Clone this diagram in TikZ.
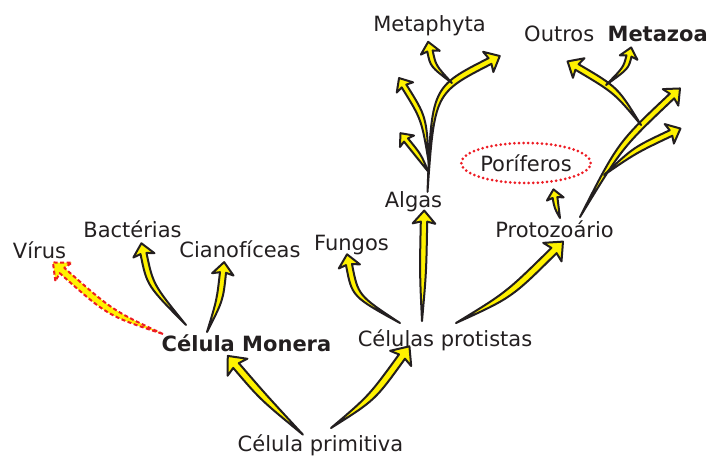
\documentclass[tikz,border=0pt]{standalone}
\usepackage{fontspec}
\setmainfont{DejaVu Sans}
\usetikzlibrary{calc, shapes.geometric}

\definecolor{amarelo}{HTML}{FFF200}
\definecolor{contorno}{HTML}{231F20}
\definecolor{vermelho}{HTML}{ED1C24}
\definecolor{texto}{HTML}{231F20}

%% seta curva afunilada: [estilo]{escala}{cauda}{controle}{base da ponta}
\newcommand{\setacurva}[5][setaamarela]{%
  \pgfmathsetmacro\sLarg{3.2*#2}%
  \pgfmathsetmacro\sCurv{3.3*#2}%
  \pgfmathsetmacro\sBarb{11.5*#2}%
  \pgfmathsetmacro\sPonta{11*#2}%
  \coordinate (sT) at (#3);%
  \coordinate (sC) at (#4);%
  \coordinate (sH) at (#5);%
  \draw[#1] (sT) .. controls ($(sC)!\sCurv pt!-90:(sH)$) .. ($(sH)!\sLarg pt!90:(sC)$)
    -- ($(sH)!\sBarb pt!80:(sC)$) -- ($(sH)!-\sPonta pt!(sC)$)
    -- ($(sH)!\sBarb pt!-80:(sC)$) -- ($(sH)!\sLarg pt!-90:(sC)$)
    .. controls ($(sC)!\sCurv pt!90:(sH)$) .. (sT) -- cycle;%
}

\begin{document}
\begin{tikzpicture}[
  x=1pt, y=-1pt,
  rotulo/.style={
    font=\fontsize{21}{25}\selectfont, text=texto,
    inner sep=0pt, anchor=base
  },
  destaque/.style={
    rotulo, font=\fontsize{21}{25}\selectfont\bfseries
  },
  elipse/.style={
    ellipse, draw=vermelho, line width=3pt,
    dash pattern=on 0pt off 4.6pt, line cap=round,
    minimum width=108pt, minimum height=40pt, inner sep=0pt,
    font=\fontsize{21}{25}\selectfont, text=texto
  },
  setaamarela/.style={draw=contorno, fill=amarelo, line width=2pt, line join=round},
  setavirus/.style={draw=vermelho, fill=amarelo, line width=2pt,
    dash pattern=on 4pt off 2.5pt, line join=round}
]
\useasboundingbox (0,0) rectangle (718,456);

%% Raiz
\node[rotulo] (prim) at (320.5,451.7) {Célula primitiva};

%% Ramo Monera
\node[destaque] (monera) at (246.5,351.7) {Célula Monera};
\node[rotulo] (virus) at (39.5,258) {Vírus};
\node[rotulo] (bact) at (132.5,237.7) {Bactérias};
\node[rotulo] (ciano) at (240,257) {Cianofíceas};

%% Ramo protistas
\node[rotulo] (protistas) at (445,346) {Células protistas};
\node[rotulo] (fungos) at (351.5,250) {Fungos};
\node[rotulo] (algas) at (413.5,207) {Algas};
\node[rotulo] (protozoa) at (554.5,237) {Protozoário};
\node[elipse] (porif) at (526,163) {Poríferos};
\node[rotulo] (metaphyta) at (429.5,31.7) {Metaphyta};
\node[rotulo] (metazoa) at (616,41.7) {Outros~~\textbf{Metazoa}};

%% pontos livres das arvores
\coordinate (mfA) at (490,61);
\coordinate (mfB) at (404,86);
\coordinate (mfC) at (406,140);
\coordinate (mfD) at (430,51);
\coordinate (mfB0) at (429,164);
\coordinate (mfC0) at (428.5,172);
\coordinate (mfD0) at (452,83);
\coordinate (mzA) at (672,96);
\coordinate (mzB) at (671,133);
\coordinate (mzC) at (577,67);
\coordinate (mzD) at (629,56);
\coordinate (mzB0) at (604,175);
\coordinate (mzC0) at (641,125);
\coordinate (mzD0) at (606,85);

%% Celula primitiva
\setacurva{1.15}{[xshift=-17.5pt]prim.north}{263,397}{[xshift=-10.5pt,yshift=-13.3pt]monera.south}
\setacurva{1.15}{[xshift=10.5pt,yshift=6.7pt]prim.north}{372,398}{[xshift=-43pt,yshift=-6pt]protistas.south}

%% Monera
\setacurva[setavirus]{1.1}{[xshift=-83.5pt,yshift=0.7pt]monera.north}{110,313}{[xshift=22.5pt,yshift=-12pt]virus.south}
\setacurva{0.95}{[xshift=-60.5pt,yshift=9.7pt]monera.north}{150,285}{[xshift=11pt,yshift=-15.3pt]bact.south}
\setacurva{0.95}{[xshift=-39.5pt,yshift=2.7pt]monera.north}{220,300}{[xshift=-17pt,yshift=-15pt]ciano.south}

%% Protistas
\setacurva{0.95}{[xshift=-45pt,yshift=6pt]protistas.north}{355,296}{[xshift=-2.5pt,yshift=-10pt]fungos.south}
\setacurva{1}{[xshift=-23pt,yshift=8pt]protistas.north}{423,272}{[xshift=10.5pt,yshift=-10pt]algas.south}
\setacurva{1.15}{[xshift=11pt,yshift=6pt]protistas.north}{509,295}{[xshift=-0.5pt,yshift=-13pt]protozoa.south}

%% Metaphyta
\setacurva{1}{[xshift=14pt,yshift=-1pt]algas.north}{433,90}{mfA}
\setacurva{0.85}{mfB0}{424,118}{mfB}
\setacurva{0.8}{mfC0}{419,156}{mfC}
\setacurva{0.85}{mfD0}{433,66}{mfD}

%% Metazoa
\setacurva{0.75}{[xshift=5.5pt,yshift=2pt]protozoa.north}{557,208}{[xshift=29pt,yshift=-13pt]porif.south}
\setacurva{1}{[xshift=25.5pt,yshift=3pt]protozoa.north}{620,145}{mzA}
\setacurva{0.95}{mzB0}{635,150}{mzB}
\setacurva{1}{mzC0}{616,90}{mzC}
\setacurva{0.8}{mzD0}{626,68}{mzD}

\end{tikzpicture}
\end{document}
